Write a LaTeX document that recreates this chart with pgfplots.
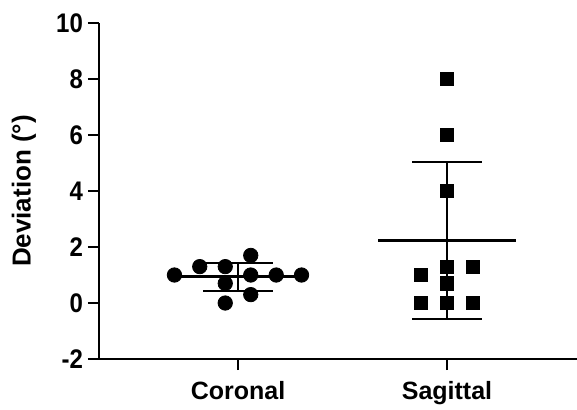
\documentclass[border=0pt]{standalone}
\usepackage{fontspec}
\setmainfont{Liberation Sans}
\usepackage{pgfplots}
\pgfplotsset{compat=1.18}

\begin{document}
\begin{tikzpicture}
\begin{axis}[
  name=ax,
  scale only axis, width=239pt, height=168pt,
  xmin=0.335, xmax=2.622, ymin=-2, ymax=10,
  axis x line*=bottom, axis y line*=left,
  axis line style={line width=1.4pt, black},
  xtick={1,2}, xticklabels={Coronal,Sagittal},
  ytick={-2,0,2,4,6,8,10}, yticklabels={-2,0,2,4,6,8,10},
  tick align=outside, major tick length=5.5pt,
  tick style={line width=1.2pt, black},
  y tick label style={font=\fontsize{12}{12}\selectfont\bfseries, xshift=1pt, yscale=1.12},
  x tick label style={font=\fontsize{12.5}{12.5}\selectfont\bfseries, yshift=-2pt},
  ylabel={Deviation (°)},
  every axis y label/.style={at={(axis description cs:0,0.5)}, xshift=-37.5pt,
    rotate=90, anchor=center, font=\fontsize{13}{13}\selectfont\bfseries},
  clip=false,
]
% mean lines
\addplot[black, line width=1.5pt] coordinates {(0.67,0.93) (1.33,0.93)};
\addplot[black, line width=1.5pt] coordinates {(1.67,2.23) (2.33,2.23)};
% SD bars
\addplot[black, line width=1pt] coordinates {(1,0.44) (1,1.42)};
\addplot[black, line width=1pt] coordinates {(0.833,1.42) (1.167,1.42)};
\addplot[black, line width=1pt] coordinates {(0.833,0.44) (1.167,0.44)};
\addplot[black, line width=1pt] coordinates {(2,-0.58) (2,5.04)};
\addplot[black, line width=1pt] coordinates {(1.833,5.04) (2.167,5.04)};
\addplot[black, line width=1pt] coordinates {(1.833,-0.58) (2.167,-0.58)};
% Coronal
\addplot[only marks, mark=*, mark size=3.6pt, black] coordinates {
  (0.696,1.0) (0.817,1.3) (0.939,1.3) (0.939,0.7) (0.939,0)
  (1.061,1.7) (1.061,1.0) (1.061,0.3) (1.183,1.0) (1.304,1.0)};
% Sagittal
\addplot[only marks, mark=square*, mark size=3.3pt, black] coordinates {
  (2,8) (2,6) (2,4) (2,1.3) (2.124,1.3) (1.876,1.0) (2,0.7)
  (1.876,0) (2,0) (2.124,0)};
\end{axis}
\pgfresetboundingbox
\path ([xshift=-49.5pt,yshift=-25pt]ax.south west) rectangle ([yshift=11.5pt]ax.north east);
\end{tikzpicture}
\end{document}
